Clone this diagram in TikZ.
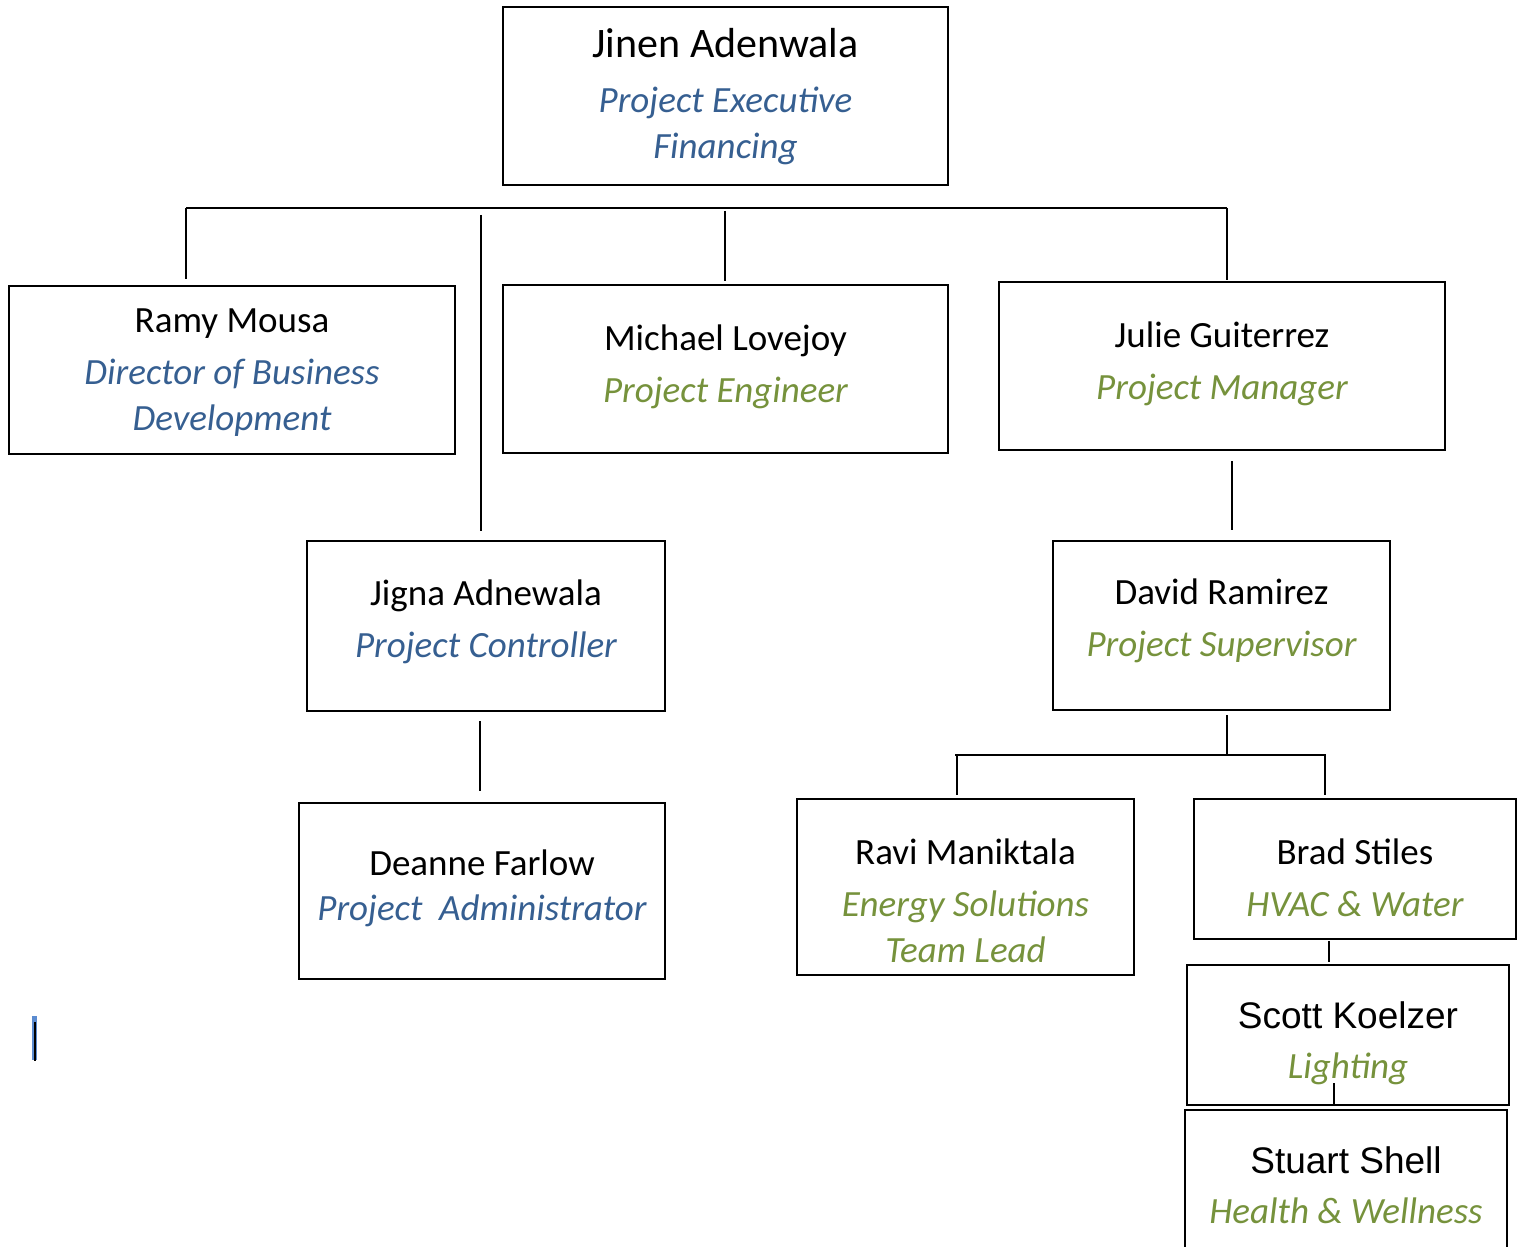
\documentclass[tikz,border=0pt]{standalone}
\usepackage{fontspec}
\setmainfont{Carlito}
\newfontfamily\arialfont{Liberation Sans}
\usetikzlibrary{positioning}

\definecolor{roleblue}{HTML}{365F91}
\definecolor{rolegreen}{HTML}{76923C}
\definecolor{cursorblue}{HTML}{5B8BD0}

\tikzset{
  pbox/.style={draw, line width=1pt, inner sep=0pt},
  role/.style={align=center, inner sep=0pt,
    font=\fontsize{18.5}{23}\selectfont\itshape},
  blue role/.style={role, text=roleblue},
  green role/.style={role, text=rolegreen},
  link/.style={line width=0.9pt}
}
\newcommand{\pname}[2][3pt]{{\upshape\color{black}#2}\\[#1]}
\newcommand{\aname}[2][2pt]{{\arialfont\upshape\color{black}#2}\\[#1]}

\begin{document}
\begin{tikzpicture}[x=0.5pt,y=-0.5pt]
   \useasboundingbox (0,0) rectangle (1523,1247);

   % boxes
   \node[pbox, minimum width=222.5pt, minimum height=89pt] (jinen) at (725.5,96) {};
   \node[pbox, minimum width=223pt, minimum height=84pt] (ramy) at (232,370) {};
   \node[pbox, minimum width=222.5pt, minimum height=84pt] (michael) at (725.5,369) {};
   \node[pbox, minimum width=223pt, minimum height=84pt] (julie) at (1222,366) {};
   \node[pbox, minimum width=179pt, minimum height=85pt] (jigna) at (486,626) {};
   \node[pbox, minimum width=168.5pt, minimum height=84.5pt] (david) at (1221.5,625.5) {};
   \node[pbox, minimum width=183pt, minimum height=88pt] (deanne) at (482,891) {};
   \node[pbox, minimum width=168.5pt, minimum height=88pt] (ravi) at (965.5,887) {};
   \node[pbox, minimum width=161pt, minimum height=70pt] (brad) at (1355,869) {};
   \node[pbox, minimum width=161pt, minimum height=70pt] (scott) at (1348,1035) {};
   \node[pbox, minimum width=161pt, minimum height=75pt] (stuart) at (1346,1185) {};

   % names and roles
   \node[blue role, yshift=-0.5pt] (jinen txt) at (jinen)
      {{\fontsize{21}{26}\selectfont\upshape\color{black}Jinen Adenwala}\\[4.5pt]Project Executive\\Financing};
   \node[blue role, yshift=-1.5pt] (ramy txt) at (ramy)
      {\pname{Ramy Mousa}Director of Business\\Development};
   \node[green role, yshift=1.2pt] (michael txt) at (michael)
      {\pname{Michael Lovejoy}Project Engineer};
   \node[green role, yshift=1pt] (julie txt) at (julie)
      {\pname{Julie Guiterrez}Project Manager};
   \node[blue role, yshift=2pt] (jigna txt) at (jigna)
      {\pname{Jigna Adnewala}Project Controller};
   \node[green role, yshift=2.5pt] (david txt) at (david)
      {\pname{David Ramirez}Project Supervisor};
   \node[blue role, yshift=1.4pt] (deanne txt) at (deanne)
      {\pname[-0.5pt]{Deanne Farlow}Project\ \ Administrator};
   \node[green role, yshift=-6.7pt] (ravi txt) at (ravi)
      {\pname{Ravi Maniktala}Energy Solutions\\Team Lead};
   \node[green role, yshift=-4.5pt] (brad txt) at (brad)
      {\pname{Brad Stiles}HVAC \& Water};
   \node[green role, yshift=-4pt] (scott txt) at (scott)
      {\aname{Scott Koelzer}Lighting};
   \node[green role] (stuart txt) at (stuart)
      {\aname{Stuart Shell}Health \& Wellness};

   % connector ends
   \coordinate (barL) at (186,208);   \coordinate (barR) at (1227,208);
   \coordinate (ramyIn) at (186,279);
   \coordinate (jignaOut) at (481,215); \coordinate (jignaIn) at (481,531);
   \coordinate (michaelOut) at (725,211); \coordinate (michaelIn) at (725,281);
   \coordinate (julieIn) at (1227,280);
   \coordinate (julieOut) at (1232,461); \coordinate (davidIn) at (1232,530);
   \coordinate (deanneOut) at (480,721); \coordinate (deanneIn) at (480,791);
   \coordinate (davidOut) at (1227,715); \coordinate (davidJoin) at (1227,755);
   \coordinate (teamL) at (955,755);   \coordinate (teamR) at (1326,755);
   \coordinate (raviTop) at (957,755); \coordinate (raviIn) at (957,795);
   \coordinate (bradTop) at (1325,755); \coordinate (bradIn) at (1325,795);
   \coordinate (bradOut) at (1329,941); \coordinate (scottIn) at (1329,962);
   \coordinate (scottOut) at (1334,1083); \coordinate (stuartIn) at (1334,1105);

   \draw[link] (barL) -- (barR);
   \draw[link] (barL) -- (ramyIn);
   \draw[link] (jignaOut) -- (jignaIn);
   \draw[link] (michaelOut) -- (michaelIn);
   \draw[link] (barR) -- (julieIn);
   \draw[link] (julieOut) -- (davidIn);
   \draw[link] (deanneOut) -- (deanneIn);
   \draw[link] (davidOut) -- (davidJoin);
   \draw[link] (teamL) -- (teamR);
   \draw[link] (raviTop) -- (raviIn);
   \draw[link] (bradTop) -- (bradIn);
   \draw[link] (bradOut) -- (scottIn);
   \draw[link] (scottOut) -- (stuartIn);

   % text cursor
   \fill[cursorblue] (32,1016) rectangle (37,1060);
   \fill[black] (34,1022) rectangle (36,1061);
\end{tikzpicture}
\end{document}
